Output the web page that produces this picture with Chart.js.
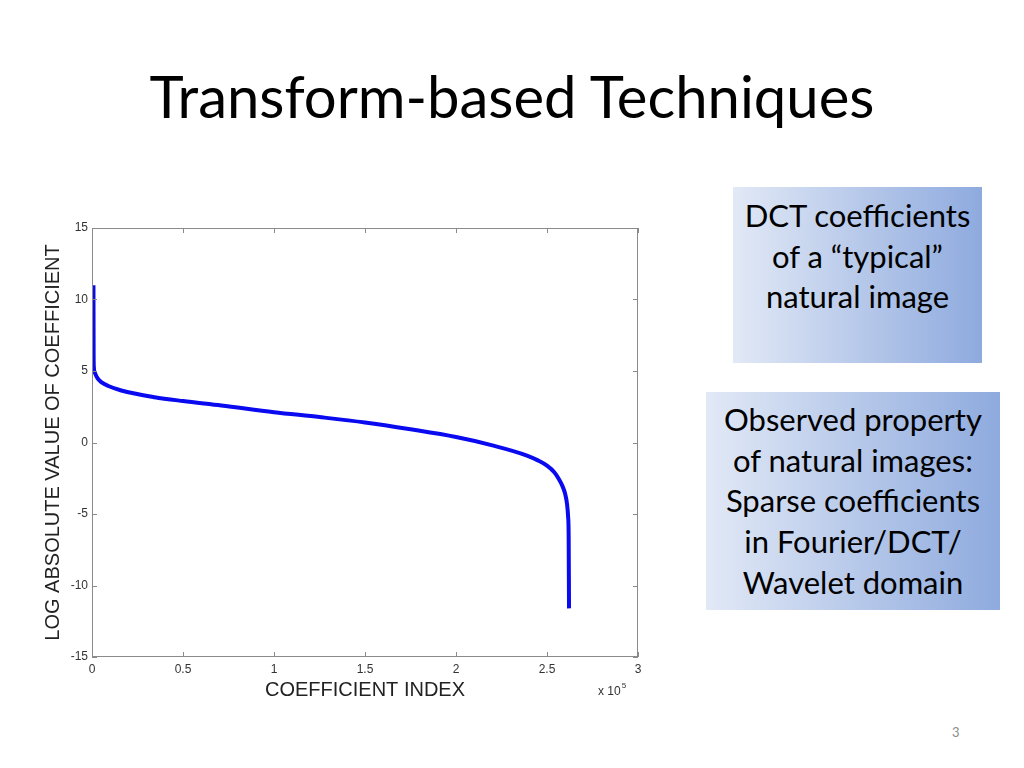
<!DOCTYPE html>
<html>
<head>
<meta charset="utf-8">
<script src="https://cdn.jsdelivr.net/npm/chart.js@4.4.1/dist/chart.umd.min.js"></script>
<style>
  html, body { margin:0; padding:0; background:#fff; }
  body { width:1024px; height:768px; position:relative; overflow:hidden; font-family: Lato, "Open Sans", sans-serif; }
  #title { position:absolute; left:0; width:1024px; top:61px; text-align:center; font-size:58px; line-height:70px; color:#000; }
  .box { position:absolute; background: linear-gradient(to right, #e2e9f6, #8eaade); text-align:center; color:#000; font-size:31px; line-height:40.7px; box-sizing:border-box; white-space:nowrap; }
  #box1 { left:733px; top:187px; width:249px; height:176px; padding-top:8px; }
  #box2 { left:706px; top:392px; width:294px; height:218px; padding-top:7px; }
  #pg { position:absolute; left:952px; top:724px; font-size:13px; color:#8c8c8c; font-family: Lato, sans-serif; }
  #wrap { position:absolute; left:0; top:200px; width:680px; height:520px; }
</style>
</head>
<body>
<div id="title">Transform-based Techniques</div>
<div class="box" id="box1">DCT coefficients<br>of a “typical”<br>natural image</div>
<div class="box" id="box2">Observed property<br>of natural images:<br>Sparse coefficients<br>in Fourier/DCT/<br>Wavelet domain</div>
<div id="pg">3</div>
<div id="wrap"><canvas id="c" width="680" height="520"></canvas></div>
<script>
// Data (x in units of 1e5)
const coefIndex = [0.008, 0.0085, 0.009, 0.01, 0.015, 0.03, 0.051, 0.09, 0.161, 0.344, 0.5, 0.71, 1.0, 1.25, 1.5, 1.75, 2.0, 2.2, 2.39, 2.45, 2.5, 2.54, 2.565, 2.585, 2.6, 2.61, 2.616, 2.619, 2.621];
const logAbsValue = [11, 8, 6, 5.3, 4.9, 4.5, 4.22, 3.95, 3.64, 3.17, 2.9, 2.59, 2.12, 1.78, 1.4, 0.92, 0.38, -0.2, -0.91, -1.25, -1.62, -2.08, -2.55, -3.05, -3.6, -4.3, -5.2, -6.5, -11.6];
const xTicks = [0, 0.5, 1, 1.5, 2, 2.5, 3];
const yTicks = [-15, -10, -5, 0, 5, 10, 15];
const xTitle = 'COEFFICIENT INDEX';
const yTitle = 'LOG ABSOLUTE VALUE OF COEFFICIENT';

const points = coefIndex.map((x, i) => ({x: x, y: logAbsValue[i]}));
const FONT = '"Liberation Sans", Arial, sans-serif';

const frame = {
  id: 'frame',
  afterDraw(chart) {
    const {ctx, chartArea: a, scales} = chart;
    ctx.save();
    ctx.strokeStyle = '#8a8a8a';
    ctx.lineWidth = 1;
    ctx.strokeRect(a.left + 0.5, a.top + 0.5, a.right - a.left - 1, a.bottom - a.top - 1);
    const L = 5;
    ctx.beginPath();
    xTicks.forEach(v => {
      const px = Math.round(scales.x.getPixelForValue(v)) + 0.5;
      ctx.moveTo(px, a.bottom); ctx.lineTo(px, a.bottom - L);
      ctx.moveTo(px, a.top); ctx.lineTo(px, a.top + L);
    });
    yTicks.forEach(v => {
      const py = Math.round(scales.y.getPixelForValue(v)) + 0.5;
      ctx.moveTo(a.left, py); ctx.lineTo(a.left + L, py);
      ctx.moveTo(a.right, py); ctx.lineTo(a.right - L, py);
    });
    ctx.stroke();
    // exponent label
    ctx.fillStyle = '#333';
    ctx.font = '12px ' + FONT;
    ctx.textBaseline = 'alphabetic';
    ctx.textAlign = 'left';
    const ex = a.right - 40, ey = a.bottom + 38;
    ctx.fillText('x 10', ex, ey);
    const w = ctx.measureText('x 10').width;
    ctx.font = '8px ' + FONT;
    ctx.fillText('5', ex + w + 1, ey - 7);
    ctx.restore();
  }
};

new Chart(document.getElementById('c'), {
  type: 'line',
  data: {
    datasets: [{
      data: points,
      borderColor: '#0a0af0',
      borderWidth: 4,
      pointRadius: 0,
      fill: false,
      cubicInterpolationMode: 'monotone'
    }]
  },
  options: {
    responsive: false,
    animation: false,
    layout: { padding: { left: 0, right: 42, top: 28, bottom: 0 } },
    plugins: { legend: { display: false }, tooltip: { enabled: false } },
    scales: {
      x: {
        type: 'linear', min: 0, max: 3,
        afterBuildTicks: s => { s.ticks = xTicks.map(v => ({value: v})); },
        afterFit: s => { s.height = 63; },
        grid: { display: false, drawTicks: false },
        border: { display: false },
        ticks: { color: '#333', font: { family: FONT, size: 12 }, padding: 5, maxRotation: 0, callback: v => String(v) },
        title: { display: true, text: xTitle, color: '#222', font: { family: FONT, size: 20 }, padding: { top: 0, bottom: 18 } }
      },
      y: {
        type: 'linear', min: -15, max: 15,
        afterBuildTicks: s => { s.ticks = yTicks.map(v => ({value: v})); },
        afterFit: s => { s.width = 92; },
        grid: { display: false, drawTicks: false },
        border: { display: false },
        ticks: { color: '#333', font: { family: FONT, size: 12 }, padding: 4, callback: v => String(v) },
        title: { display: true, text: yTitle, color: '#222', font: { family: FONT, size: 20 }, padding: { top: 41, bottom: 0 } }
      }
    }
  },
  plugins: [frame]
});
</script>
</body>
</html>
